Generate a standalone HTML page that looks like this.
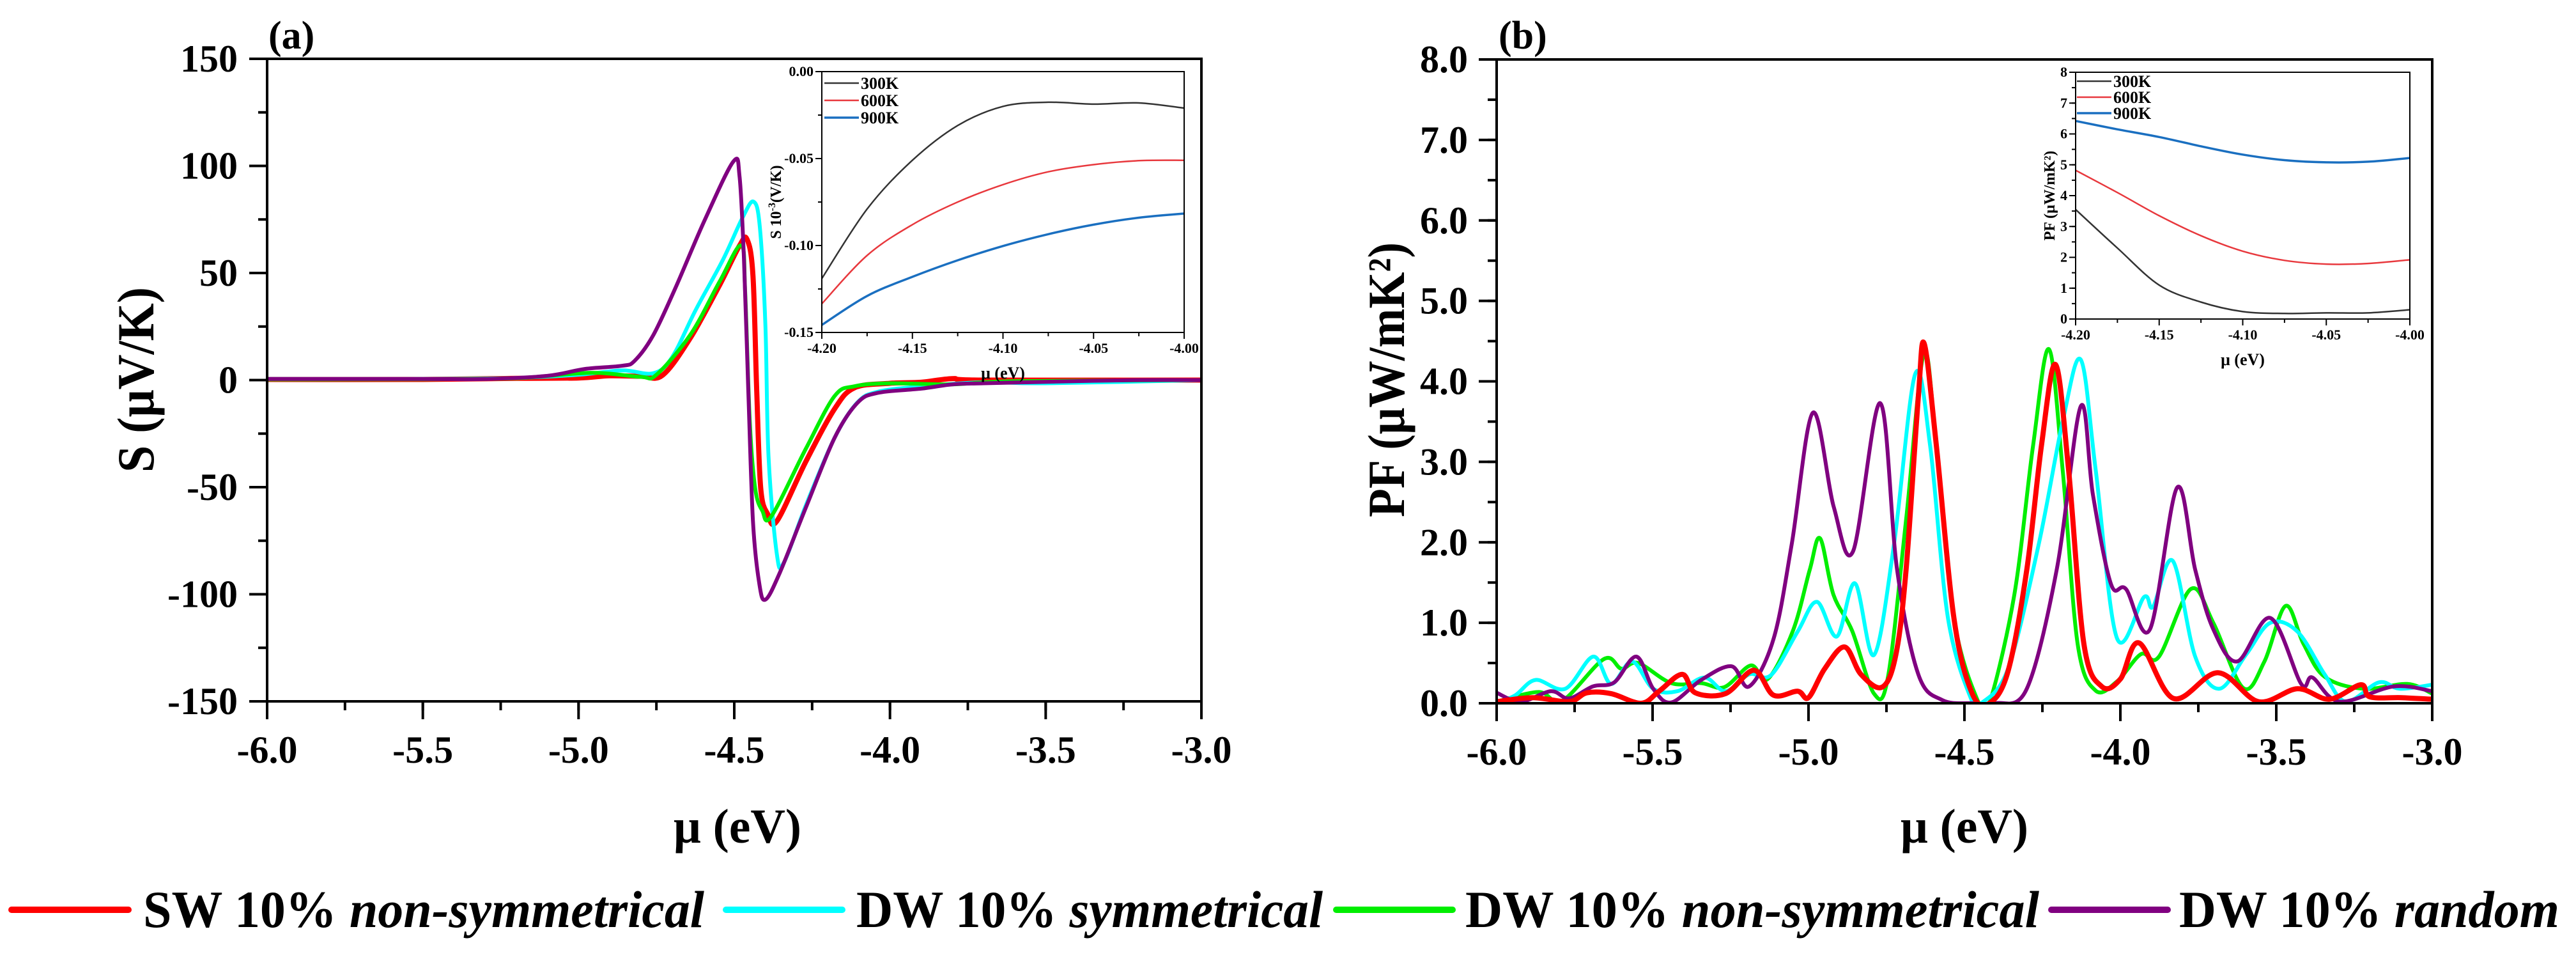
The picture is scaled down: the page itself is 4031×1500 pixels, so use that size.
<!DOCTYPE html>
<html><head><meta charset="utf-8"><style>
html,body{margin:0;padding:0;background:#fff;}
svg{display:block;font-family:"Liberation Serif",serif;font-weight:bold;}
</style></head><body>
<svg id="fig" width="4031" height="1500" viewBox="0 0 4031 1500" xmlns="http://www.w3.org/2000/svg">
<rect width="4031" height="1500" fill="#fff"/>
<g id="pa"></g>
<g id="pb"></g>
<g id="ia"></g>
<g id="ib"></g>
<g id="legend">
  <line x1="18" y1="1423" x2="201" y2="1423" stroke="#ff0000" stroke-width="10" stroke-linecap="round"/>
  <text x="224" y="1450" font-size="82" textLength="878" lengthAdjust="spacingAndGlyphs">SW 10% <tspan font-style="italic">non-symmetrical</tspan></text>
  <line x1="1136" y1="1423" x2="1318" y2="1423" stroke="#00ffff" stroke-width="10" stroke-linecap="round"/>
  <text x="1340" y="1450" font-size="82" textLength="730" lengthAdjust="spacingAndGlyphs">DW 10% <tspan font-style="italic">symmetrical</tspan></text>
  <line x1="2091" y1="1423" x2="2273" y2="1423" stroke="#00ee00" stroke-width="10" stroke-linecap="round"/>
  <text x="2293" y="1450" font-size="82" textLength="898" lengthAdjust="spacingAndGlyphs">DW 10% <tspan font-style="italic">non-symmetrical</tspan></text>
  <line x1="3210" y1="1423" x2="3392" y2="1423" stroke="#800080" stroke-width="10" stroke-linecap="round"/>
  <text x="3410" y="1450" font-size="82" textLength="595" lengthAdjust="spacingAndGlyphs">DW 10% <tspan font-style="italic">random</tspan></text>
</g>
</svg>
<script>
// ---------- Panel (a) Seebeck data ----------
const sRedX = [-6.0,-5.5,-5.2,-5.0,-4.9,-4.8,-4.73,-4.64,-4.547,-4.483,-4.459,-4.44,-4.428,-4.415,-4.392,-4.363,-4.27,-4.178,-4.114,-4.0,-3.9,-3.8,-3.7,-3.0];
const sRedY = [0.3,0.3,0.8,1.0,2.0,1.8,2.3,19.9,44.4,62.8,65.7,49,-4.6,-50.5,-62.7,-65.8,-38,-13.5,-3.6,-1.5,-1,0.7,0,0];
const sCyanX = [-6.0,-5.5,-5.2,-5.0,-4.86,-4.76,-4.70,-4.623,-4.537,-4.473,-4.438,-4.418,-4.40,-4.39,-4.363,-4.34,-4.27,-4.178,-4.105,-4.04,-3.9,-3.7,-3.5,-3.0];
const sCyanY = [0.5,0.5,1.0,2.5,4.5,3.2,10.6,33,56,76,83.3,71.5,25.6,-35.6,-81.6,-85,-58.5,-27,-10.5,-5.5,-3,-1,-1.5,0];
const sGreenX = [-6.0,-5.5,-5.2,-4.96,-4.8,-4.75,-4.64,-4.547,-4.478,-4.465,-4.45,-4.433,-4.41,-4.381,-4.27,-4.178,-4.114,-4.0,-3.8,-3.6,-3.0];
const sGreenY = [0.3,0.4,0.9,3.4,1.5,2.5,21.4,46,62.8,41,-20,-50.5,-61,-63.6,-32,-7.5,-2.9,-1.5,-2,-0.5,0];
const sPurpleX = [-6.0,-5.5,-5.3,-5.1,-4.98,-4.86,-4.82,-4.76,-4.686,-4.594,-4.503,-4.483,-4.469,-4.455,-4.44,-4.42,-4.40,-4.354,-4.27,-4.178,-4.105,-4.04,-3.9,-3.8,-3.7,-3.5,-3.2,-3.0];
const sPurpleY = [0.5,0.5,0.5,2,5.2,6.7,9.0,21,44,75,102,95,57,-4.6,-65.6,-94.7,-102.5,-90,-59.5,-27,-10.7,-6,-4,-2,-1.5,-0.8,0,0];
const aXTicks = [-6.0,-5.5,-5.0,-4.5,-4.0,-3.5,-3.0];
const aYTicks = [-150,-100,-50,0,50,100,150];

// ---------- Panel (b) PF data ----------
const pRedX = [-6.0,-5.884,-5.768,-5.71,-5.633,-5.537,-5.479,-5.405,-5.363,-5.266,-5.175,-5.112,-5.035,-5.0,-4.948,-4.884,-4.832,-4.764,-4.72,-4.687,-4.648,-4.629,-4.59,-4.533,-4.475,-4.42,-4.36,-4.30,-4.253,-4.208,-4.166,-4.117,-4.06,-4.0,-3.94,-3.83,-3.687,-3.557,-3.432,-3.33,-3.229,-3.2,-3.1,-3.0];
const pRedY = [0.02,0.07,0.02,0.13,0.12,0.0,0.15,0.36,0.13,0.12,0.41,0.1,0.15,0.07,0.43,0.7,0.36,0.2,0.6,1.66,3.8,4.47,3.2,1.04,0.12,0.0,0.4,1.66,3.2,4.21,2.9,0.74,0.21,0.3,0.75,0.06,0.38,0.02,0.18,0.05,0.23,0.08,0.07,0.05];
const pCyanX = [-6.0,-5.94,-5.875,-5.78,-5.69,-5.633,-5.566,-5.498,-5.42,-5.334,-5.266,-5.19,-5.12,-5.035,-4.973,-4.909,-4.851,-4.79,-4.726,-4.658,-4.61,-4.552,-4.475,-4.446,-4.36,-4.262,-4.185,-4.127,-4.079,-4.011,-3.924,-3.895,-3.832,-3.76,-3.683,-3.596,-3.519,-3.432,-3.345,-3.277,-3.171,-3.104,-3.0];
const pCyanY = [0.0,0.1,0.29,0.18,0.58,0.24,0.52,0.18,0.15,0.32,0.15,0.36,0.35,0.89,1.26,0.83,1.49,0.6,1.97,4.09,3.2,1.04,0.02,0.0,0.43,1.97,3.5,4.27,2.9,0.81,1.32,1.2,1.77,0.58,0.18,0.61,1.0,0.89,0.36,0.02,0.26,0.18,0.23];
const pGreenX = [-6.0,-5.865,-5.79,-5.656,-5.6,-5.546,-5.44,-5.344,-5.27,-5.185,-5.131,-5.05,-4.996,-4.963,-4.92,-4.86,-4.79,-4.745,-4.687,-4.63,-4.59,-4.533,-4.456,-4.42,-4.34,-4.28,-4.229,-4.185,-4.137,-4.08,-4.011,-3.934,-3.876,-3.774,-3.702,-3.606,-3.538,-3.47,-3.413,-3.345,-3.22,-3.08,-3.0];
const pGreenY = [0.02,0.14,0.03,0.55,0.43,0.5,0.25,0.25,0.2,0.47,0.3,0.9,1.66,2.05,1.35,0.9,0.12,0.33,2.28,4.35,3.2,1.04,0.02,0.0,1.35,3.2,4.4,2.9,0.74,0.16,0.27,0.61,0.58,1.42,1.0,0.19,0.52,1.21,0.74,0.33,0.18,0.24,0.12];
const pPurpleX = [-6.0,-5.923,-5.826,-5.768,-5.691,-5.623,-5.552,-5.498,-5.44,-5.344,-5.247,-5.19,-5.112,-5.054,-4.986,-4.919,-4.857,-4.77,-4.716,-4.648,-4.571,-4.475,-4.4,-4.30,-4.204,-4.127,-4.088,-4.03,-3.982,-3.905,-3.818,-3.76,-3.702,-3.625,-3.519,-3.42,-3.384,-3.297,-3.123,-3.0];
const pPurpleY = [0.13,0.02,0.15,0.06,0.21,0.26,0.58,0.18,0.01,0.29,0.46,0.21,0.8,1.97,3.61,2.44,1.89,3.73,1.66,0.36,0.04,0.0,0.0,0.18,1.66,3.69,2.59,1.48,1.42,0.92,2.68,1.66,0.92,0.52,1.06,0.24,0.32,0.02,0.21,0.15];
const bXTicks = [-6.0,-5.5,-5.0,-4.5,-4.0,-3.5,-3.0];
const bYTicks = [0,1,2,3,4,5,6,7,8];
const bYLabels = ["0.0","1.0","2.0","3.0","4.0","5.0","6.0","7.0","8.0"];

// ---------- Insets ----------
const insetX = [-4.20,-4.175,-4.15,-4.125,-4.10,-4.075,-4.05,-4.025,-4.00];
const iaS300 = [-0.119,-0.079,-0.051,-0.031,-0.020,-0.0176,-0.0187,-0.018,-0.021];
const iaS600 = [-0.1335,-0.1057,-0.088,-0.075,-0.065,-0.0576,-0.0535,-0.0512,-0.051];
const iaS900 = [-0.1457,-0.129,-0.118,-0.1085,-0.1003,-0.0935,-0.088,-0.084,-0.0816];
const ibP300 = [3.55,2.3,1.1,0.55,0.24,0.18,0.2,0.2,0.3];
const ibP600 = [4.82,4.1,3.35,2.7,2.2,1.9,1.78,1.8,1.92];
const ibP900 = [6.42,6.15,5.9,5.6,5.33,5.15,5.08,5.1,5.22];
const insetXTicks = [-4.20,-4.15,-4.10,-4.05,-4.00];
const iaYTicks = [-0.15,-0.10,-0.05,0.00];
const ibYTicks = [0,1,2,3,4,5,6,7,8];
const tempLabels = ["300K","600K","900K"];

const NS = "http://www.w3.org/2000/svg";
function el(parent, tag, attrs, text){
  const e = document.createElementNS(NS, tag);
  for (const k in attrs) e.setAttribute(k, attrs[k]);
  if (text !== undefined) e.textContent = text;
  parent.appendChild(e);
  return e;
}
function lin(d0,d1,r0,r1){ return v => r0 + (v-d0)/(d1-d0)*(r1-r0); }
function spline(xs, ys, fx, fy){
  const P = xs.map((x,i)=>[fx(x), fy(ys[i])]);
  let d = "M"+P[0][0].toFixed(1)+","+P[0][1].toFixed(1);
  for (let i=0;i<P.length-1;i++){
    const p0=P[Math.max(0,i-1)], p1=P[i], p2=P[i+1], p3=P[Math.min(P.length-1,i+2)];
    const c1x=p1[0]+(p2[0]-p0[0])/6, c1y=p1[1]+(p2[1]-p0[1])/6;
    const c2x=p2[0]-(p3[0]-p1[0])/6, c2y=p2[1]-(p3[1]-p1[1])/6;
    d += " C"+c1x.toFixed(1)+","+c1y.toFixed(1)+" "+c2x.toFixed(1)+","+c2y.toFixed(1)+" "+p2[0].toFixed(1)+","+p2[1].toFixed(1);
  }
  return d;
}

// ================= Panel A =================
(function(){
  const g = document.getElementById('pa');
  const L=418, R=1880, T=92, B=1097;
  const fx = lin(-6,-3,L,R), fy = lin(-150,150,B,T);
  const clipA = el(g,'clipPath',{id:'clipA'}); el(clipA,'rect',{x:L,y:T,width:R-L,height:B-T});
  for (let v=-6; v<=-3.001; v+=0.25){ const x=fx(v);
    const t = el(g,'line',{x1:x,y1:B,x2:x,y2:B+14,stroke:'#000','stroke-width':4});
      }
  for (let v=-150; v<=150; v+=25){ const y=fy(v);
    const t = el(g,'line',{x1:L,y1:y,x2:L-14,y2:y,stroke:'#000','stroke-width':4});
      }
  aXTicks.forEach(v=>{ const x=fx(v);
    const t=el(g,'line',{x1:x,y1:B,x2:x,y2:B+28,stroke:'#000','stroke-width':4});
     
    const lb=el(g,'text',{x:x,y:1193,'font-size':60,'text-anchor':'middle'}, v.toFixed(1));
      });
  aYTicks.forEach(v=>{ const y=fy(v);
    const t=el(g,'line',{x1:L,y1:y,x2:L-28,y2:y,stroke:'#000','stroke-width':4});
     
    const lb=el(g,'text',{x:372,y:y+20,'font-size':60,'text-anchor':'end'}, String(v));
      });
  const series = [[sRedX,sRedY,'#ff0000',8,'series-sw-nonsym'],[sGreenX,sGreenY,'#00ee00',6,'series-dw-nonsym'],[sCyanX,sCyanY,'#00ffff',6,'series-dw-sym'],[sPurpleX,sPurpleY,'#800080',6,'series-dw-random']];
  const order = [0,2,1,3];
  order.forEach(i=>{ const s=series[i];
    const p=el(g,'path',{d:spline(s[0],s[1],fx,fy),fill:'none',stroke:s[2],'stroke-width':s[3],'stroke-linejoin':'round','clip-path':'url(#clipA)'});
      });
  const fr=el(g,'rect',{x:L,y:T,width:R-L,height:B-T,fill:'none',stroke:'#000','stroke-width':4});
   
  const xt=el(g,'text',{x:1154,y:1318,'font-size':76,'text-anchor':'middle',textLength:200,lengthAdjust:'spacingAndGlyphs'},'μ (eV)');
   
  const yt=el(g,'text',{x:0,y:0,'font-size':82,'text-anchor':'middle',textLength:290,lengthAdjust:'spacingAndGlyphs',transform:'translate(240,594) rotate(-90)'},'S (μV/K)');
   
  const pl=el(g,'text',{x:420,y:76,'font-size':62},'(a)');
   
})();

// ================= Panel B =================
(function(){
  const g = document.getElementById('pb');
  const L=2342, R=3806, T=93, B=1100;
  const fx = lin(-6,-3,L,R), fy = lin(0,8,B,T);
  const clipB = el(g,'clipPath',{id:'clipB'}); el(clipB,'rect',{x:L,y:T-10,width:R-L,height:B-T+10});
  for (let v=-6; v<=-3.001; v+=0.25){ const x=fx(v);
    const t=el(g,'line',{x1:x,y1:B,x2:x,y2:B+14,stroke:'#000','stroke-width':4});
      }
  for (let v=0; v<=8; v+=0.5){ const y=fy(v);
    const t=el(g,'line',{x1:L,y1:y,x2:L-14,y2:y,stroke:'#000','stroke-width':4});
      }
  bXTicks.forEach(v=>{ const x=fx(v);
    const t=el(g,'line',{x1:x,y1:B,x2:x,y2:B+28,stroke:'#000','stroke-width':4});
     
    const lb=el(g,'text',{x:x,y:1196,'font-size':60,'text-anchor':'middle'}, v.toFixed(1));
      });
  bYTicks.forEach((v,i)=>{ const y=fy(v);
    const t=el(g,'line',{x1:L,y1:y,x2:L-28,y2:y,stroke:'#000','stroke-width':4});
     
    const lb=el(g,'text',{x:2297,y:y+20,'font-size':60,'text-anchor':'end'}, bYLabels[i]);
      });
  const series = [[pGreenX,pGreenY,'#00ee00',6,'series-dw-nonsym'],[pCyanX,pCyanY,'#00ffff',6,'series-dw-sym'],[pPurpleX,pPurpleY,'#800080',6,'series-dw-random'],[pRedX,pRedY,'#ff0000',8,'series-sw-nonsym']];
  series.forEach(s=>{
    const p=el(g,'path',{d:spline(s[0],s[1],fx,fy),fill:'none',stroke:s[2],'stroke-width':s[3],'stroke-linejoin':'round','clip-path':'url(#clipB)'});
      });
  const fr=el(g,'rect',{x:L,y:T,width:R-L,height:B-T,fill:'none',stroke:'#000','stroke-width':4});
   
  const xt=el(g,'text',{x:3074,y:1318,'font-size':76,'text-anchor':'middle',textLength:200,lengthAdjust:'spacingAndGlyphs'},'μ (eV)');
   
  const yt=el(g,'text',{x:0,y:0,'font-size':82,'text-anchor':'middle',textLength:430,lengthAdjust:'spacingAndGlyphs',transform:'translate(2197,594) rotate(-90)'},'PF (μW/mK²)');
   
  const pl=el(g,'text',{x:2345,y:76,'font-size':62},'(b)');
   
})();

// ================= Insets =================
function inset(gid, L,R,T,B, y0,y1, yTicks, yFmt, minorStep, data, ylab, ylabX, legX, legY0, legDy){
  const g=document.getElementById(gid);
  const fx=lin(-4.2,-4.0,L,R), fy=lin(y0,y1,B,T);
  for (let v=-4.2; v<=-3.999; v+=0.025){ const x=fx(v);
    const t=el(g,'line',{x1:x,y1:B,x2:x,y2:B+(Math.abs(Math.round(v*100)%5)<0.01?10:6),stroke:'#000','stroke-width':2});
      }
  for (let v=y0; v<=y1+1e-9; v+=minorStep){ const y=fy(v);
    const t=el(g,'line',{x1:L,y1:y,x2:L-6,y2:y,stroke:'#000','stroke-width':2});
      }
  insetXTicks.forEach(v=>{
    const lb=el(g,'text',{x:fx(v),y:B+32,'font-size':22,'text-anchor':'middle'},v.toFixed(2));
      });
  yTicks.forEach(v=>{ const y=fy(v);
    const t=el(g,'line',{x1:L,y1:y,x2:L-10,y2:y,stroke:'#000','stroke-width':2});
     
    const lb=el(g,'text',{x:L-13,y:y+7,'font-size':22,'text-anchor':'end'},yFmt(v));
      });
  const cols=['#333333','#e8383d','#1a6fc0'];
  data.forEach((ys,i)=>{
    const p=el(g,'path',{d:spline(insetX,ys,fx,fy),fill:'none',stroke:cols[i],'stroke-width':i==2?3.5:2.5});
     
    const ly=legY0+i*legDy;
    const ll=el(g,'line',{x1:legX,y1:ly,x2:legX+54,y2:ly,stroke:cols[i],'stroke-width':i==2?3.5:2.5});
     
    const lt=el(g,'text',{x:legX+57,y:ly+9,'font-size':26},tempLabels[i]);
     
  });
  const fr=el(g,'rect',{x:L,y:T,width:R-L,height:B-T,fill:'none',stroke:'#000','stroke-width':2});
   
  const xt=el(g,'text',{x:(L+R)/2,y:B+72,'font-size':26,'text-anchor':'middle'},'μ (eV)');
   
  const yt=el(g,'text',{x:0,y:0,'font-size':24,'text-anchor':'middle',transform:'translate('+ylabX+','+((T+B)/2)+') rotate(-90)'});
   
  if (ylab==='S'){ yt.textContent='S 10'; el(yt,'tspan',{dy:-9,'font-size':16},'-3'); el(yt,'tspan',{dy:9},'(V/K)'); }
  else yt.textContent='PF (μW/mK²)';
}
inset('ia',1286,1853,112,520,-0.15,0,iaYTicks,v=>v.toFixed(2),0.025,[iaS300,iaS600,iaS900],'S',1222,1290,130,27);
inset('ib',3248,3771,113,499,0,8,ibYTicks,v=>String(v),0.5,[ibP300,ibP600,ibP900],'PF',3215,3250,127,25);
</script>
</body></html>
